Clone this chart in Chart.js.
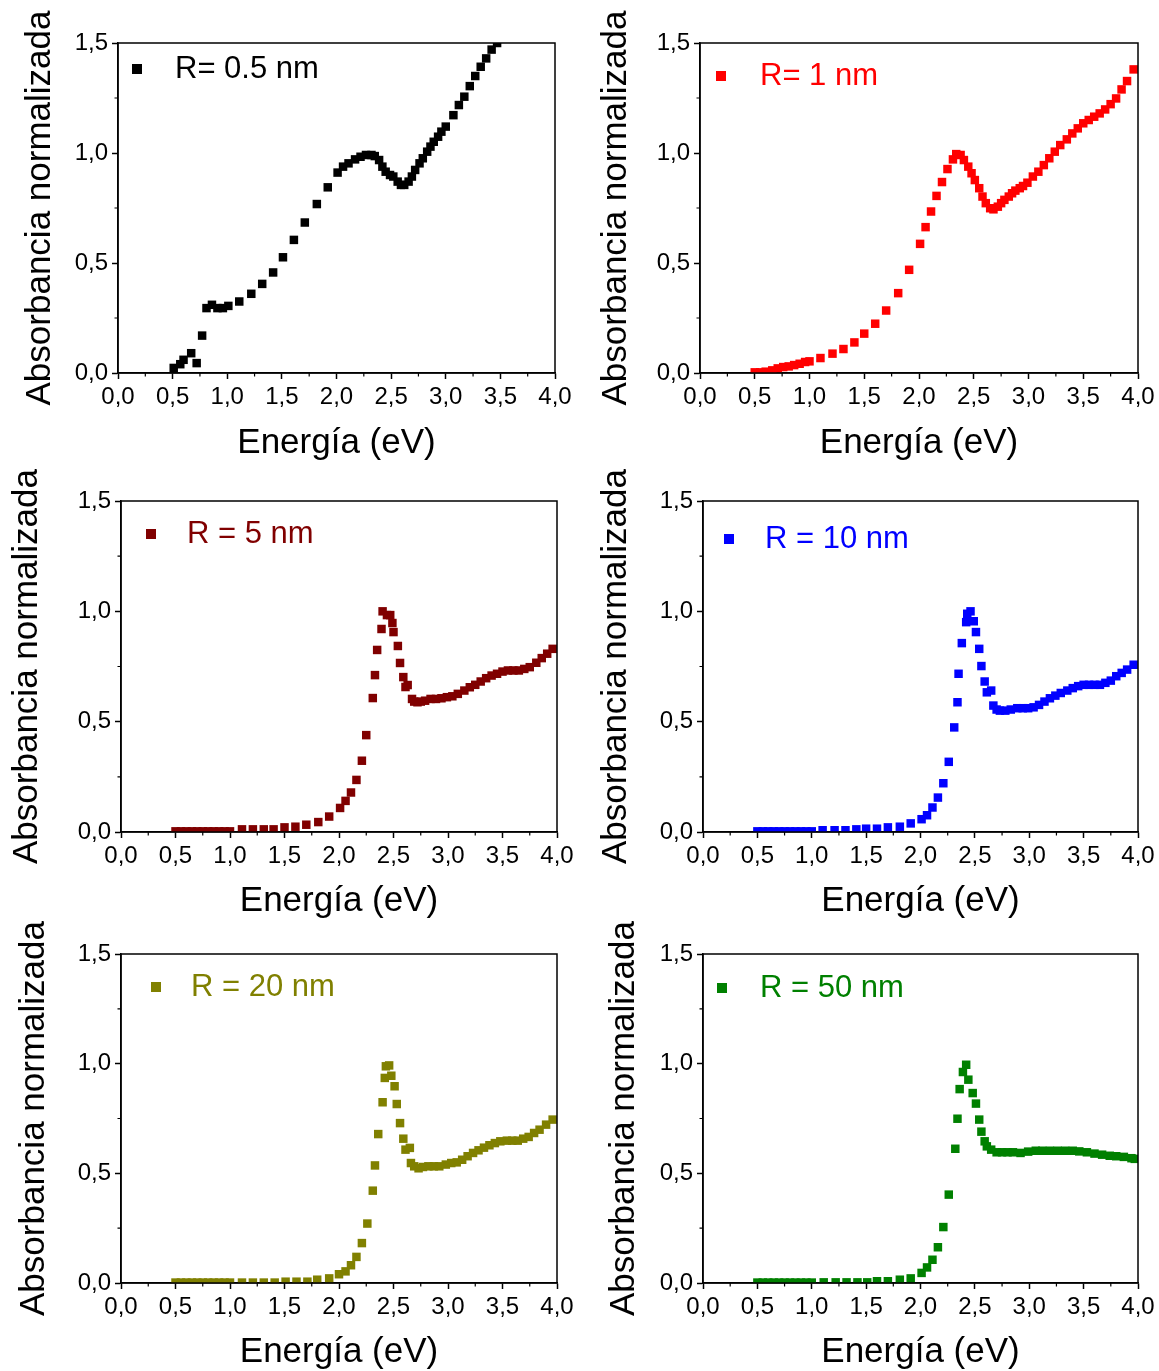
<!DOCTYPE html>
<html>
<head>
<meta charset="utf-8">
<script src="https://cdn.jsdelivr.net/npm/chart.js@4.4.1/dist/chart.umd.min.js"></script>
<style>
  body { margin: 0; background: #fff; }
  #wrap { position: relative; width: 1159px; height: 1371px; overflow: hidden; background: #fff; }
  #wrap canvas { position: absolute; }
</style>
</head>
<body>
<div id="wrap"></div>
<script>
// R = 0.5 nm
const energy05 = [0.51, 0.57, 0.60, 0.67, 0.72, 0.77, 0.81, 0.86, 0.91, 0.96, 1.01, 1.11, 1.22, 1.32, 1.42, 1.51, 1.61, 1.71, 1.82, 1.92,
  2.01, 2.06, 2.11, 2.17, 2.22, 2.27, 2.32, 2.35, 2.39, 2.42, 2.45, 2.49, 2.52, 2.56, 2.59, 2.62, 2.66, 2.69, 2.72, 2.76,
  2.79, 2.83, 2.86, 2.89, 2.93, 2.96, 3.00, 3.07, 3.12, 3.17, 3.22, 3.27, 3.32, 3.37, 3.42, 3.47];
const abs05 = [0.023, 0.04, 0.06, 0.09, 0.045, 0.17, 0.295, 0.31, 0.295, 0.295, 0.305, 0.325, 0.36, 0.405, 0.457, 0.526, 0.605, 0.684, 0.768, 0.844,
  0.911, 0.938, 0.953, 0.971, 0.983, 0.991, 0.991, 0.986, 0.968, 0.938, 0.915, 0.9, 0.893, 0.87, 0.855, 0.855, 0.87, 0.893, 0.923, 0.953,
  0.976, 1.006, 1.029, 1.051, 1.074, 1.097, 1.12, 1.172, 1.218, 1.256, 1.304, 1.35, 1.392, 1.43, 1.47, 1.5];

// R = 1 nm
const energy1 = [0.50, 0.55, 0.60, 0.66, 0.71, 0.76, 0.81, 0.86, 0.91, 0.96, 1.00, 1.10, 1.21, 1.31, 1.41, 1.50, 1.60, 1.70, 1.81, 1.91,
  2.01, 2.06, 2.11, 2.16, 2.21, 2.26, 2.31, 2.34, 2.38, 2.41, 2.45, 2.48, 2.51, 2.55, 2.58, 2.61, 2.65, 2.68, 2.72, 2.75,
  2.78, 2.82, 2.85, 2.88, 2.92, 2.95, 2.99, 3.04, 3.09, 3.14, 3.19, 3.24, 3.29, 3.35, 3.40, 3.45, 3.50, 3.55, 3.60, 3.65,
  3.70, 3.75, 3.80, 3.85, 3.90, 3.96];
const abs1 = [0.003, 0.003, 0.006, 0.012, 0.021, 0.027, 0.03, 0.036, 0.042, 0.05, 0.053, 0.068, 0.088, 0.109, 0.139, 0.179, 0.224, 0.284, 0.363, 0.469,
  0.587, 0.663, 0.734, 0.805, 0.868, 0.927, 0.971, 0.995, 0.991, 0.968, 0.938, 0.908, 0.877, 0.84, 0.802, 0.772, 0.749, 0.744, 0.756, 0.772,
  0.787, 0.802, 0.817, 0.829, 0.84, 0.85, 0.865, 0.893, 0.915, 0.945, 0.976, 1.006, 1.036, 1.062, 1.089, 1.112, 1.135, 1.15, 1.165, 1.18,
  1.198, 1.222, 1.248, 1.289, 1.327, 1.38];

// R = 5 nm
const energy5 = [0.50, 0.55, 0.60, 0.65, 0.70, 0.75, 0.80, 0.85, 0.90, 0.95, 1.00, 1.11, 1.21, 1.31, 1.40, 1.50, 1.60, 1.70, 1.81, 1.91,
  2.01, 2.06, 2.11, 2.16, 2.21, 2.25, 2.31, 2.33, 2.35, 2.39, 2.40, 2.44, 2.47, 2.49, 2.50, 2.54, 2.56, 2.59, 2.61, 2.63,
  2.67, 2.69, 2.72, 2.75, 2.79, 2.84, 2.89, 2.94, 2.99, 3.04, 3.09, 3.15, 3.20, 3.25, 3.30, 3.35, 3.40, 3.45, 3.50, 3.55,
  3.60, 3.65, 3.70, 3.75, 3.81, 3.86, 3.91, 3.96];
const abs5 = [0.003, 0.003, 0.003, 0.003, 0.003, 0.003, 0.003, 0.003, 0.003, 0.003, 0.003, 0.012, 0.012, 0.012, 0.012, 0.021, 0.024, 0.033, 0.045, 0.07,
  0.109, 0.141, 0.179, 0.236, 0.323, 0.439, 0.607, 0.711, 0.825, 0.92, 1.0, 0.983, 0.983, 0.947, 0.906, 0.843, 0.766, 0.702, 0.657, 0.666,
  0.603, 0.591, 0.588, 0.591, 0.595, 0.603, 0.603, 0.606, 0.611, 0.615, 0.626, 0.641, 0.656, 0.667, 0.682, 0.697, 0.709, 0.717, 0.727, 0.732,
  0.732, 0.732, 0.739, 0.747, 0.767, 0.788, 0.808, 0.83];

// R = 10 nm
const energy10 = [0.50, 0.55, 0.60, 0.65, 0.70, 0.75, 0.80, 0.85, 0.90, 0.95, 1.00, 1.10, 1.21, 1.31, 1.41, 1.50, 1.60, 1.70, 1.81, 1.91,
  2.01, 2.06, 2.11, 2.16, 2.21, 2.26, 2.31, 2.34, 2.35, 2.38, 2.42, 2.43, 2.46, 2.49, 2.51, 2.54, 2.56, 2.59, 2.61, 2.65,
  2.67, 2.70, 2.73, 2.78, 2.83, 2.89, 2.94, 2.99, 3.04, 3.09, 3.14, 3.19, 3.24, 3.29, 3.35, 3.40, 3.45, 3.50, 3.55, 3.60,
  3.65, 3.70, 3.75, 3.80, 3.85, 3.90, 3.96];
const abs10 = [0.003, 0.003, 0.003, 0.003, 0.003, 0.003, 0.003, 0.003, 0.003, 0.003, 0.003, 0.008, 0.008, 0.008, 0.012, 0.015, 0.015, 0.021, 0.024, 0.039,
  0.058, 0.076, 0.111, 0.156, 0.221, 0.318, 0.474, 0.588, 0.717, 0.856, 0.951, 0.989, 1.0, 0.955, 0.906, 0.83, 0.752, 0.682, 0.633, 0.641,
  0.573, 0.555, 0.55, 0.55, 0.555, 0.561, 0.561, 0.561, 0.565, 0.576, 0.591, 0.606, 0.618, 0.63, 0.641, 0.652, 0.661, 0.667, 0.667, 0.667,
  0.667, 0.676, 0.686, 0.706, 0.721, 0.736, 0.758];

// R = 20 nm
const energy20 = [0.50, 0.55, 0.60, 0.65, 0.70, 0.75, 0.80, 0.85, 0.90, 0.95, 1.00, 1.11, 1.21, 1.31, 1.41, 1.51, 1.61, 1.71, 1.80, 1.91,
  2.00, 2.06, 2.11, 2.16, 2.21, 2.26, 2.31, 2.33, 2.36, 2.40, 2.42, 2.43, 2.46, 2.48, 2.51, 2.53, 2.56, 2.59, 2.61, 2.65,
  2.66, 2.69, 2.73, 2.77, 2.82, 2.87, 2.92, 2.98, 3.03, 3.08, 3.13, 3.18, 3.23, 3.28, 3.33, 3.38, 3.43, 3.48, 3.54, 3.59,
  3.64, 3.69, 3.74, 3.79, 3.84, 3.90, 3.96];
const abs20 = [0.002, 0.002, 0.002, 0.002, 0.002, 0.002, 0.002, 0.002, 0.002, 0.002, 0.002, 0.002, 0.002, 0.002, 0.002, 0.006, 0.006, 0.006, 0.015, 0.021,
  0.04, 0.053, 0.081, 0.119, 0.182, 0.271, 0.421, 0.536, 0.679, 0.824, 0.935, 0.988, 0.992, 0.945, 0.897, 0.816, 0.729, 0.658, 0.608, 0.616,
  0.547, 0.532, 0.523, 0.529, 0.532, 0.532, 0.532, 0.54, 0.547, 0.55, 0.562, 0.578, 0.593, 0.605, 0.617, 0.628, 0.638, 0.646, 0.649, 0.649,
  0.649, 0.658, 0.666, 0.684, 0.699, 0.722, 0.745];

// R = 50 nm
const energy50 = [0.50, 0.55, 0.60, 0.65, 0.70, 0.75, 0.80, 0.85, 0.90, 0.95, 1.00, 1.11, 1.22, 1.32, 1.42, 1.51, 1.60, 1.70, 1.81, 1.91,
  2.01, 2.06, 2.11, 2.16, 2.21, 2.26, 2.32, 2.34, 2.36, 2.39, 2.42, 2.44, 2.48, 2.51, 2.54, 2.56, 2.59, 2.61, 2.65, 2.70,
  2.75, 2.80, 2.85, 2.92, 2.99, 3.06, 3.12, 3.19, 3.26, 3.33, 3.40, 3.46, 3.53, 3.60, 3.67, 3.74, 3.80, 3.87, 3.94, 3.97];
const abs50 = [0.002, 0.002, 0.002, 0.002, 0.002, 0.002, 0.002, 0.002, 0.002, 0.002, 0.002, 0.003, 0.003, 0.003, 0.003, 0.003, 0.008, 0.008, 0.015, 0.021,
  0.046, 0.071, 0.106, 0.163, 0.255, 0.403, 0.612, 0.749, 0.884, 0.962, 0.995, 0.927, 0.866, 0.818, 0.745, 0.69, 0.646, 0.623, 0.608, 0.596,
  0.596, 0.596, 0.596, 0.593, 0.599, 0.603, 0.603, 0.603, 0.603, 0.603, 0.603, 0.6, 0.596, 0.59, 0.585, 0.58, 0.578, 0.575, 0.569, 0.566];

const xTicks = [0, 0.5, 1, 1.5, 2, 2.5, 3, 3.5, 4];
const yTicks = [0, 0.5, 1, 1.5];

const FONT = "'Liberation Sans', Arial, sans-serif";

// box: canvas left, top, width, height; area: plot left, top, right, bottom (page px)
const panels = [
  {energy: energy05, abs: abs05, label: 'R= 0.5 nm', color: '#000000',
   box: [0, 0, 580, 470], area: [118, 43, 555, 373], yTitle: 40, xTitle: 444, legend: [19, 26, 57]},
  {energy: energy1, abs: abs1, label: 'R= 1 nm', color: '#ff0000',
   box: [580, 0, 579, 470], area: [700, 43, 1138, 373], yTitle: 616, xTitle: 444, legend: [21, 33, 60]},
  {energy: energy5, abs: abs5, label: 'R = 5 nm', color: '#800000',
   box: [0, 460, 580, 470], area: [121, 501, 557, 832], yTitle: 27, xTitle: 902, legend: [30, 33, 66]},
  {energy: energy10, abs: abs10, label: 'R = 10 nm', color: '#0000ff',
   box: [580, 460, 579, 470], area: [703, 501, 1138, 832], yTitle: 616, xTitle: 902, legend: [26, 38, 62]},
  {energy: energy20, abs: abs20, label: 'R = 20 nm', color: '#808000',
   box: [0, 920, 580, 451], area: [121, 954, 557, 1283], yTitle: 34, xTitle: 1353, legend: [35, 33, 70]},
  {energy: energy50, abs: abs50, label: 'R = 50 nm', color: '#008000',
   box: [580, 920, 579, 451], area: [703, 954, 1138, 1283], yTitle: 624, xTitle: 1353, legend: [19, 34, 57]},
];

const fmt = v => v.toFixed(1).replace('.', ',');

// frame, minor ticks and the inside legend
const framePlugin = {
  id: 'frame',
  afterDraw(chart, args, opts) {
    const {ctx, chartArea: a, scales} = chart;
    ctx.save();
    ctx.strokeStyle = '#000';
    ctx.lineWidth = 1.5;
    ctx.strokeRect(a.left, a.top, a.right - a.left, a.bottom - a.top);

    ctx.lineWidth = 1.2;
    ctx.beginPath();
    for (let i = 0; i < xTicks.length - 1; i++) {
      const px = scales.x.getPixelForValue((xTicks[i] + xTicks[i + 1]) / 2);
      ctx.moveTo(px, a.bottom);
      ctx.lineTo(px, a.bottom + 3.5);
    }
    for (let i = 0; i < yTicks.length - 1; i++) {
      const py = scales.y.getPixelForValue((yTicks[i] + yTicks[i + 1]) / 2);
      ctx.moveTo(a.left, py);
      ctx.lineTo(a.left - 3.5, py);
    }
    ctx.stroke();

    const ds = chart.data.datasets[0];
    const [mx, my, tx] = opts.pos;
    ctx.fillStyle = ds.backgroundColor;
    ctx.fillRect(a.left + mx - 5, a.top + my - 5, 10, 10);
    ctx.font = '31px ' + FONT;
    ctx.textBaseline = 'middle';
    ctx.textAlign = 'left';
    ctx.fillText(ds.label, a.left + tx, a.top + my);
    ctx.restore();
  }
};

const wrap = document.getElementById('wrap');

function createConfig(p) {
  const [bx, by, bw, bh] = p.box;
  const [al, at, ar, ab] = p.area;
  const points = p.energy.map((e, i) => ({x: e, y: p.abs[i]}));
  return {
    type: 'scatter',
    data: {
      datasets: [{
        label: p.label,
        data: points,
        pointStyle: 'rect',
        pointRadius: 6,
        pointBorderWidth: 0,
        backgroundColor: p.color,
        borderColor: p.color
      }]
    },
    options: {
      responsive: false,
      animation: false,
      layout: {padding: {left: 0, bottom: 0, top: at - by, right: bx + bw - ar}},
      scales: {
        x: {
          type: 'linear',
          min: 0, max: 4,
          afterFit: s => { s.height = by + bh - ab; },
          afterBuildTicks: s => { s.ticks = xTicks.map(v => ({value: v})); },
          ticks: {color: '#000', font: {family: FONT, size: 24}, padding: 4, maxRotation: 0, callback: fmt},
          grid: {drawOnChartArea: false, drawTicks: true, tickLength: 6, tickWidth: 1.5, tickColor: '#000'},
          border: {display: true, color: '#000', width: 1.5},
          title: {
            display: true, text: 'Energía (eV)', color: '#000',
            font: {family: FONT, size: 35, lineHeight: 1},
            padding: {top: 0, bottom: by + bh - 17 - p.xTitle}
          }
        },
        y: {
          type: 'linear',
          min: 0, max: 1.5,
          afterFit: s => { s.width = al - bx; },
          afterBuildTicks: s => { s.ticks = yTicks.map(v => ({value: v})); },
          ticks: {color: '#000', font: {family: FONT, size: 24}, padding: 4, callback: fmt},
          grid: {drawOnChartArea: false, drawTicks: true, tickLength: 6, tickWidth: 1.5, tickColor: '#000'},
          border: {display: true, color: '#000', width: 1.5},
          title: {
            display: true, text: 'Absorbancia normalizada', color: '#000',
            font: {family: FONT, size: 35, lineHeight: 1},
            padding: {top: p.yTitle - bx - 17, bottom: 0}
          }
        }
      },
      plugins: {
        legend: {display: false},
        tooltip: {enabled: false},
        frame: {pos: p.legend}
      }
    },
    plugins: [framePlugin]
  };
}

panels.forEach(p => {
  const c = document.createElement('canvas');
  c.width = p.box[2];
  c.height = p.box[3];
  c.style.left = p.box[0] + 'px';
  c.style.top = p.box[1] + 'px';
  c.style.width = p.box[2] + 'px';
  c.style.height = p.box[3] + 'px';
  wrap.appendChild(c);
  new Chart(c, createConfig(p));
});
</script>
</body>
</html>
